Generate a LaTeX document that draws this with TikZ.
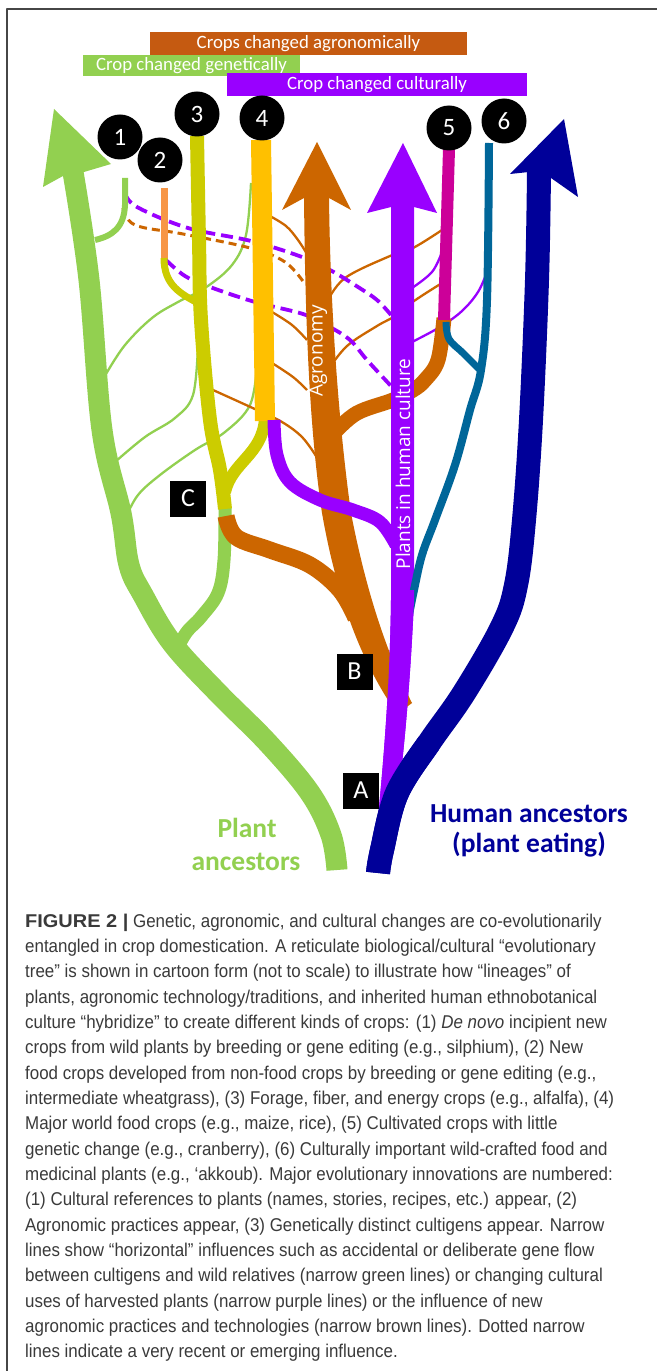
\documentclass[tikz,border=0pt]{standalone}
\usepackage{fontspec}
\setmainfont{Liberation Sans}
\newfontfamily\calib{Carlito}
\newfontfamily\osans{Open Sans}
\newfontfamily\capfont[FakeStretch=0.915]{Liberation Sans}
\definecolor{cgreen}{RGB}{146,208,80}
\definecolor{cbrown}{RGB}{204,102,0}
\definecolor{cbanbrown}{RGB}{197,90,17}
\definecolor{cpurple}{RGB}{153,0,255}
\definecolor{cnavy}{RGB}{0,0,153}
\definecolor{colive}{RGB}{204,204,0}
\definecolor{cgold}{RGB}{255,192,0}
\definecolor{corange}{RGB}{247,150,70}
\definecolor{cmagenta}{RGB}{204,0,153}
\definecolor{cteal}{RGB}{0,102,153}
\definecolor{ccap}{RGB}{58,58,58}
\definecolor{cframe}{RGB}{70,70,70}
\tikzset{
  thinline/.style={line width=2.3bp},
  dashpurple/.style={cpurple, line width=3.8bp, dash pattern=on 12bp off 6bp},
  dashbrown/.style={cbrown, line width=3bp, dash pattern=on 8bp off 5bp},
  banner/.style={minimum height=23bp, inner sep=0pt, text=white, font=\calib\fontsize{18.8bp}{20bp}\selectfont},
  numdisc/.style={circle, fill=black, minimum size=45bp, inner sep=0pt, text=white, font=\calib\fontsize{25bp}{26bp}\selectfont},
  letterbox/.style={fill=black, minimum width=36bp, minimum height=36bp, inner sep=0pt, text=white, font=\calib\fontsize{26bp}{27bp}\selectfont},
  trunktext/.style={text=white, rotate=90, inner sep=0pt, font=\osans\fontsize{19bp}{20bp}\selectfont},
  bigtext/.style={inner sep=0pt, font=\calib\bfseries\fontsize{27.5bp}{28bp}\selectfont},
  capline/.style={anchor=base west, inner sep=0pt, text=ccap, font=\capfont\fontsize{18.5bp}{20bp}\selectfont},
}
\begin{document}
\begin{tikzpicture}[x=1bp,y=-1bp, line cap=butt, line join=round]
\useasboundingbox (0,0) rectangle (657,1371);
\fill[white] (0,0) rectangle (657,1371);
% frame
\draw[cframe, line width=1.6bp] (7,1371) -- (7,9) -- (657,9);

% ---------- thin horizontal influences (behind) ----------
% green thin
\draw[cgreen, thinline] plot[smooth, tension=0.6] coordinates {(251,183) (246,235) (232,265) (205,288) (178,302) (152,318) (125,345) (106,374)};
\draw[cgreen, thinline] plot[smooth, tension=0.6] coordinates {(198,345) (193,395) (175,418) (145,437) (115,462)};
\draw[cgreen, thinline] plot[smooth, tension=0.6] coordinates {(257,365) (250,405) (225,432) (195,450) (160,475) (138,495) (126,517)};
% brown thin
\draw[cbrown, thinline] plot[smooth, tension=0.6] coordinates {(268,215) (286,226) (298,240) (307,254)};
\draw[cbrown, thinline] plot[smooth, tension=0.6] coordinates {(272,312) (292,325) (307,340)};
\draw[cbrown, thinline] plot[smooth, tension=0.6] coordinates {(272,363) (293,377) (307,390)};
\draw[cbrown, thinline] plot[smooth, tension=0.6] coordinates {(213,390) (257,410) (282,422) (302,437) (316,456)};
\draw[cbrown, thinline] plot[smooth, tension=0.6] coordinates {(327,302) (345,278) (390,256) (413,248) (442,230)};
\draw[cbrown, thinline] plot[smooth, tension=0.6] coordinates {(328,370) (347,346) (377,326) (395,316) (414,301) (442,283)};
% purple thin
\draw[cpurple, thinline] plot[smooth, tension=0.6] coordinates {(412,288) (432,272) (442,252)};
\draw[cpurple, thinline] plot[smooth, tension=0.6] coordinates {(412,342) (440,327) (462,311) (478,292) (487,272)};
% dashed
\draw[dashpurple] plot[smooth, tension=0.6] coordinates {(125,193) (137,207) (188,228) (251,241) (302,257) (330,270) (358,287) (377,300) (391,315)};
\draw[dashpurple] plot[smooth, tension=0.6] coordinates {(166,260) (185,276) (210,287) (255,302) (303,314) (328,326) (350,340) (367,360) (391,386)};
\draw[dashbrown] plot[smooth, tension=0.6] coordinates {(123,208) (135,225) (183,234) (250,248) (285,262) (305,284)};

% ---------- plant ancestors (green trunk) ----------
\draw[cgreen, line width=21bp] plot[smooth, tension=0.6] coordinates {(73,172) (89,280) (102,430) (121,513) (129,565) (143,595) (172,643) (218,693) (268,743) (310,793) (331,835) (337,870)};
\fill[cgreen] (54,109) -- (111,164) -- (84,172) -- (63,176) -- (43,187) -- cycle;
% line 1
\draw[cgreen, line width=6bp] (125,178) -- (125,205) .. controls (124,228) and (112,236) .. (95,240);
% green branch C -> trunk
\draw[cgreen, line width=13bp] plot[smooth, tension=0.6] coordinates {(225,508) (224,560) (218,593) (201,617) (186,633) (174,655)};

% ---------- human ancestors (navy) ----------
% purple trunk (behind navy)
\fill[cpurple] (391,205) -- (391,600) .. controls (390,680) and (384,760) .. (376,838) -- (392,838) .. controls (402,780) and (410,690) .. (414,600) -- (414,205) -- cycle;
\fill[cpurple] (403,143) -- (437,213) -- (414,207) -- (391,207) -- (367,213) -- cycle;
\draw[cnavy, line width=24bp] plot[smooth, tension=0.6] coordinates {(539,172) (537,280) (531,420) (524,520) (516,585) (502,627) (464,693) (429,743) (397,793) (382,850) (378,873)};
\fill[cnavy] (564,119) -- (578,197) -- (551,178) -- (529,172) -- (510,174) -- cycle;

% ---------- agronomy (brown trunk) ----------
\fill[cbrown] (304,196) .. controls (305,300) and (308,420) .. (322,513) .. controls (332,570) and (350,640) .. (388,700) -- (400,712) -- (412,703)
  .. controls (380,640) and (362,570) .. (351,513) .. controls (338,420) and (330,300) .. (329,196) -- cycle;
\fill[cbrown] (317,142) -- (351,210) -- (329,198) -- (304,198) -- (282,210) -- cycle;
% brown branch to C
\draw[cbrown, line width=17bp] plot[smooth, tension=0.6] coordinates {(226,516) (236,537) (270,550) (310,565) (340,590) (356,618)};
% line 6 (teal), behind the purple trunk at its lower end
\draw[cteal, line width=8bp] plot[smooth, tension=0.6] coordinates {(489,143) (487,300) (481,370) (470,410) (455,465) (435,520) (422,555) (414,590) (408,620)};
% re-draw purple trunk on top of brown end and teal end
\fill[cpurple] (391,590) -- (414,590) -- (414,600) .. controls (410,690) and (402,780) .. (392,838) -- (376,838) .. controls (384,760) and (390,680) .. (391,600) -- cycle;
\draw[cnavy, line width=24bp] plot[smooth, tension=0.6] coordinates {(429,743) (397,793) (382,850) (378,873)};

% ---------- cultigen lines ----------
% line 2
\draw[corange, line width=7bp] (164,188) -- (164,259);
\draw[colive, line width=7bp] (164,258) .. controls (164,285) and (180,294) .. (202,305);
% line 3
\draw[colive, line width=14bp] plot[smooth, tension=0.6] coordinates {(197,136) (199,240) (201,320) (210,420) (220,470) (225,509)};
% olive branch to line 4
\draw[colive, line width=12bp] (225,492) .. controls (232,462) and (262,455) .. (265,419);
% line 4
\draw[cgold, line width=20bp] (261,140) -- (265,421);
% purple branch from line 4
\draw[cpurple, line width=13bp] plot[smooth, tension=0.6] coordinates {(274,420) (277,455) (290,482) (320,500) (353,510) (380,522) (396,545)};
% brown branch from line 5
\draw[cbrown, line width=15bp] plot[smooth, tension=0.6] coordinates {(335,432) (357,413) (393,400) (413,390) (425,380) (438,360) (444,318)};
\fill[cpurple] (391,380) rectangle (414,420);
% line 5
\draw[cmagenta, line width=12bp] (449,149) -- (444,320);
% teal side branch
\draw[cteal, line width=7bp] plot[smooth, tension=0.6] coordinates {(446,322) (449,339) (463,353) (479,369)};

% ---------- trunk texts ----------
\node[trunktext] (agro) at (318,351) {Agronomy};
\node[trunktext] (cult) at (403,464) {Plants in human culture};

% ---------- banners ----------
\fill[cbanbrown] (150,32) rectangle (467,55);
\node[banner] (bagr) at (308.5,44) {Crops changed agronomically};
\fill[cgreen] (83,55) rectangle (300,76);
\node[banner] (bgen) at (191.5,65.5) {Crop changed genetically};
\fill[cpurple] (227,73) rectangle (527,96);
\node[banner] (bcul) at (377,84.5) {Crop changed culturally};

% ---------- numbered discs ----------
\node[numdisc] (n1) at (120,137) {1};
\node[numdisc] (n2) at (160,160) {2};
\node[numdisc] (n3) at (197,114) {3};
\node[numdisc] (n4) at (262,118) {4};
\node[numdisc] (n5) at (449,128) {5};
\node[numdisc] (n6) at (504,121) {6};

% ---------- letter boxes ----------
\node[letterbox] (lc) at (188,498.5) {C};
\node[letterbox] (lb) at (354.5,671.5) {B};
\node[letterbox] (la) at (361,790.5) {A};

% ---------- ancestor labels ----------
\node[bigtext, text=cgreen, anchor=base] (pl1) at (247,837) {Plant};
\node[bigtext, text=cgreen, anchor=base] (pl2) at (246,870) {ancestors};
\node[bigtext, text=cnavy, anchor=base] (hu1) at (529,822) {Human ancestors};
\node[bigtext, text=cnavy, anchor=base] (hu2) at (529,852) {(plant eating)};

% ---------- caption ----------
\node[capline] (c1) at (25,927.0) {\scalebox{1.18}[1]{\textbf{FIGURE 2 |}} Genetic, agronomic, and cultural changes are co-evolutionarily};
\node[capline] (c2) at (25,952.35) {entangled in crop domestication. A reticulate biological/cultural “evolutionary};
\node[capline] (c3) at (25,977.7) {tree” is shown in cartoon form (not to scale) to illustrate how “lineages” of};
\node[capline] (c4) at (25,1003.05) {plants, agronomic technology/traditions, and inherited human ethnobotanical};
\node[capline] (c5) at (25,1028.4) {culture “hybridize” to create different kinds of crops: (1) \textit{De novo} incipient new};
\node[capline] (c6) at (25,1053.75) {crops from wild plants by breeding or gene editing (e.g., silphium), (2) New};
\node[capline] (c7) at (25,1079.1) {food crops developed from non-food crops by breeding or gene editing (e.g.,};
\node[capline] (c8) at (25,1104.45) {intermediate wheatgrass), (3) Forage, fiber, and energy crops (e.g., alfalfa), (4)};
\node[capline] (c9) at (25,1129.8) {Major world food crops (e.g., maize, rice), (5) Cultivated crops with little};
\node[capline] (c10) at (25,1155.15) {genetic change (e.g., cranberry), (6) Culturally important wild-crafted food and};
\node[capline] (c11) at (25,1180.5) {medicinal plants (e.g., ‘akkoub). Major evolutionary innovations are numbered:};
\node[capline] (c12) at (25,1205.85) {(1) Cultural references to plants (names, stories, recipes, etc.) appear, (2)};
\node[capline] (c13) at (25,1231.2) {Agronomic practices appear, (3) Genetically distinct cultigens appear. Narrow};
\node[capline] (c14) at (25,1256.55) {lines show “horizontal” influences such as accidental or deliberate gene flow};
\node[capline] (c15) at (25,1281.9) {between cultigens and wild relatives (narrow green lines) or changing cultural};
\node[capline] (c16) at (25,1307.25) {uses of harvested plants (narrow purple lines) or the influence of new};
\node[capline] (c17) at (25,1332.6) {agronomic practices and technologies (narrow brown lines). Dotted narrow};
\node[capline] (c18) at (25,1357.95) {lines indicate a very recent or emerging influence.};
\end{tikzpicture}
\end{document}
